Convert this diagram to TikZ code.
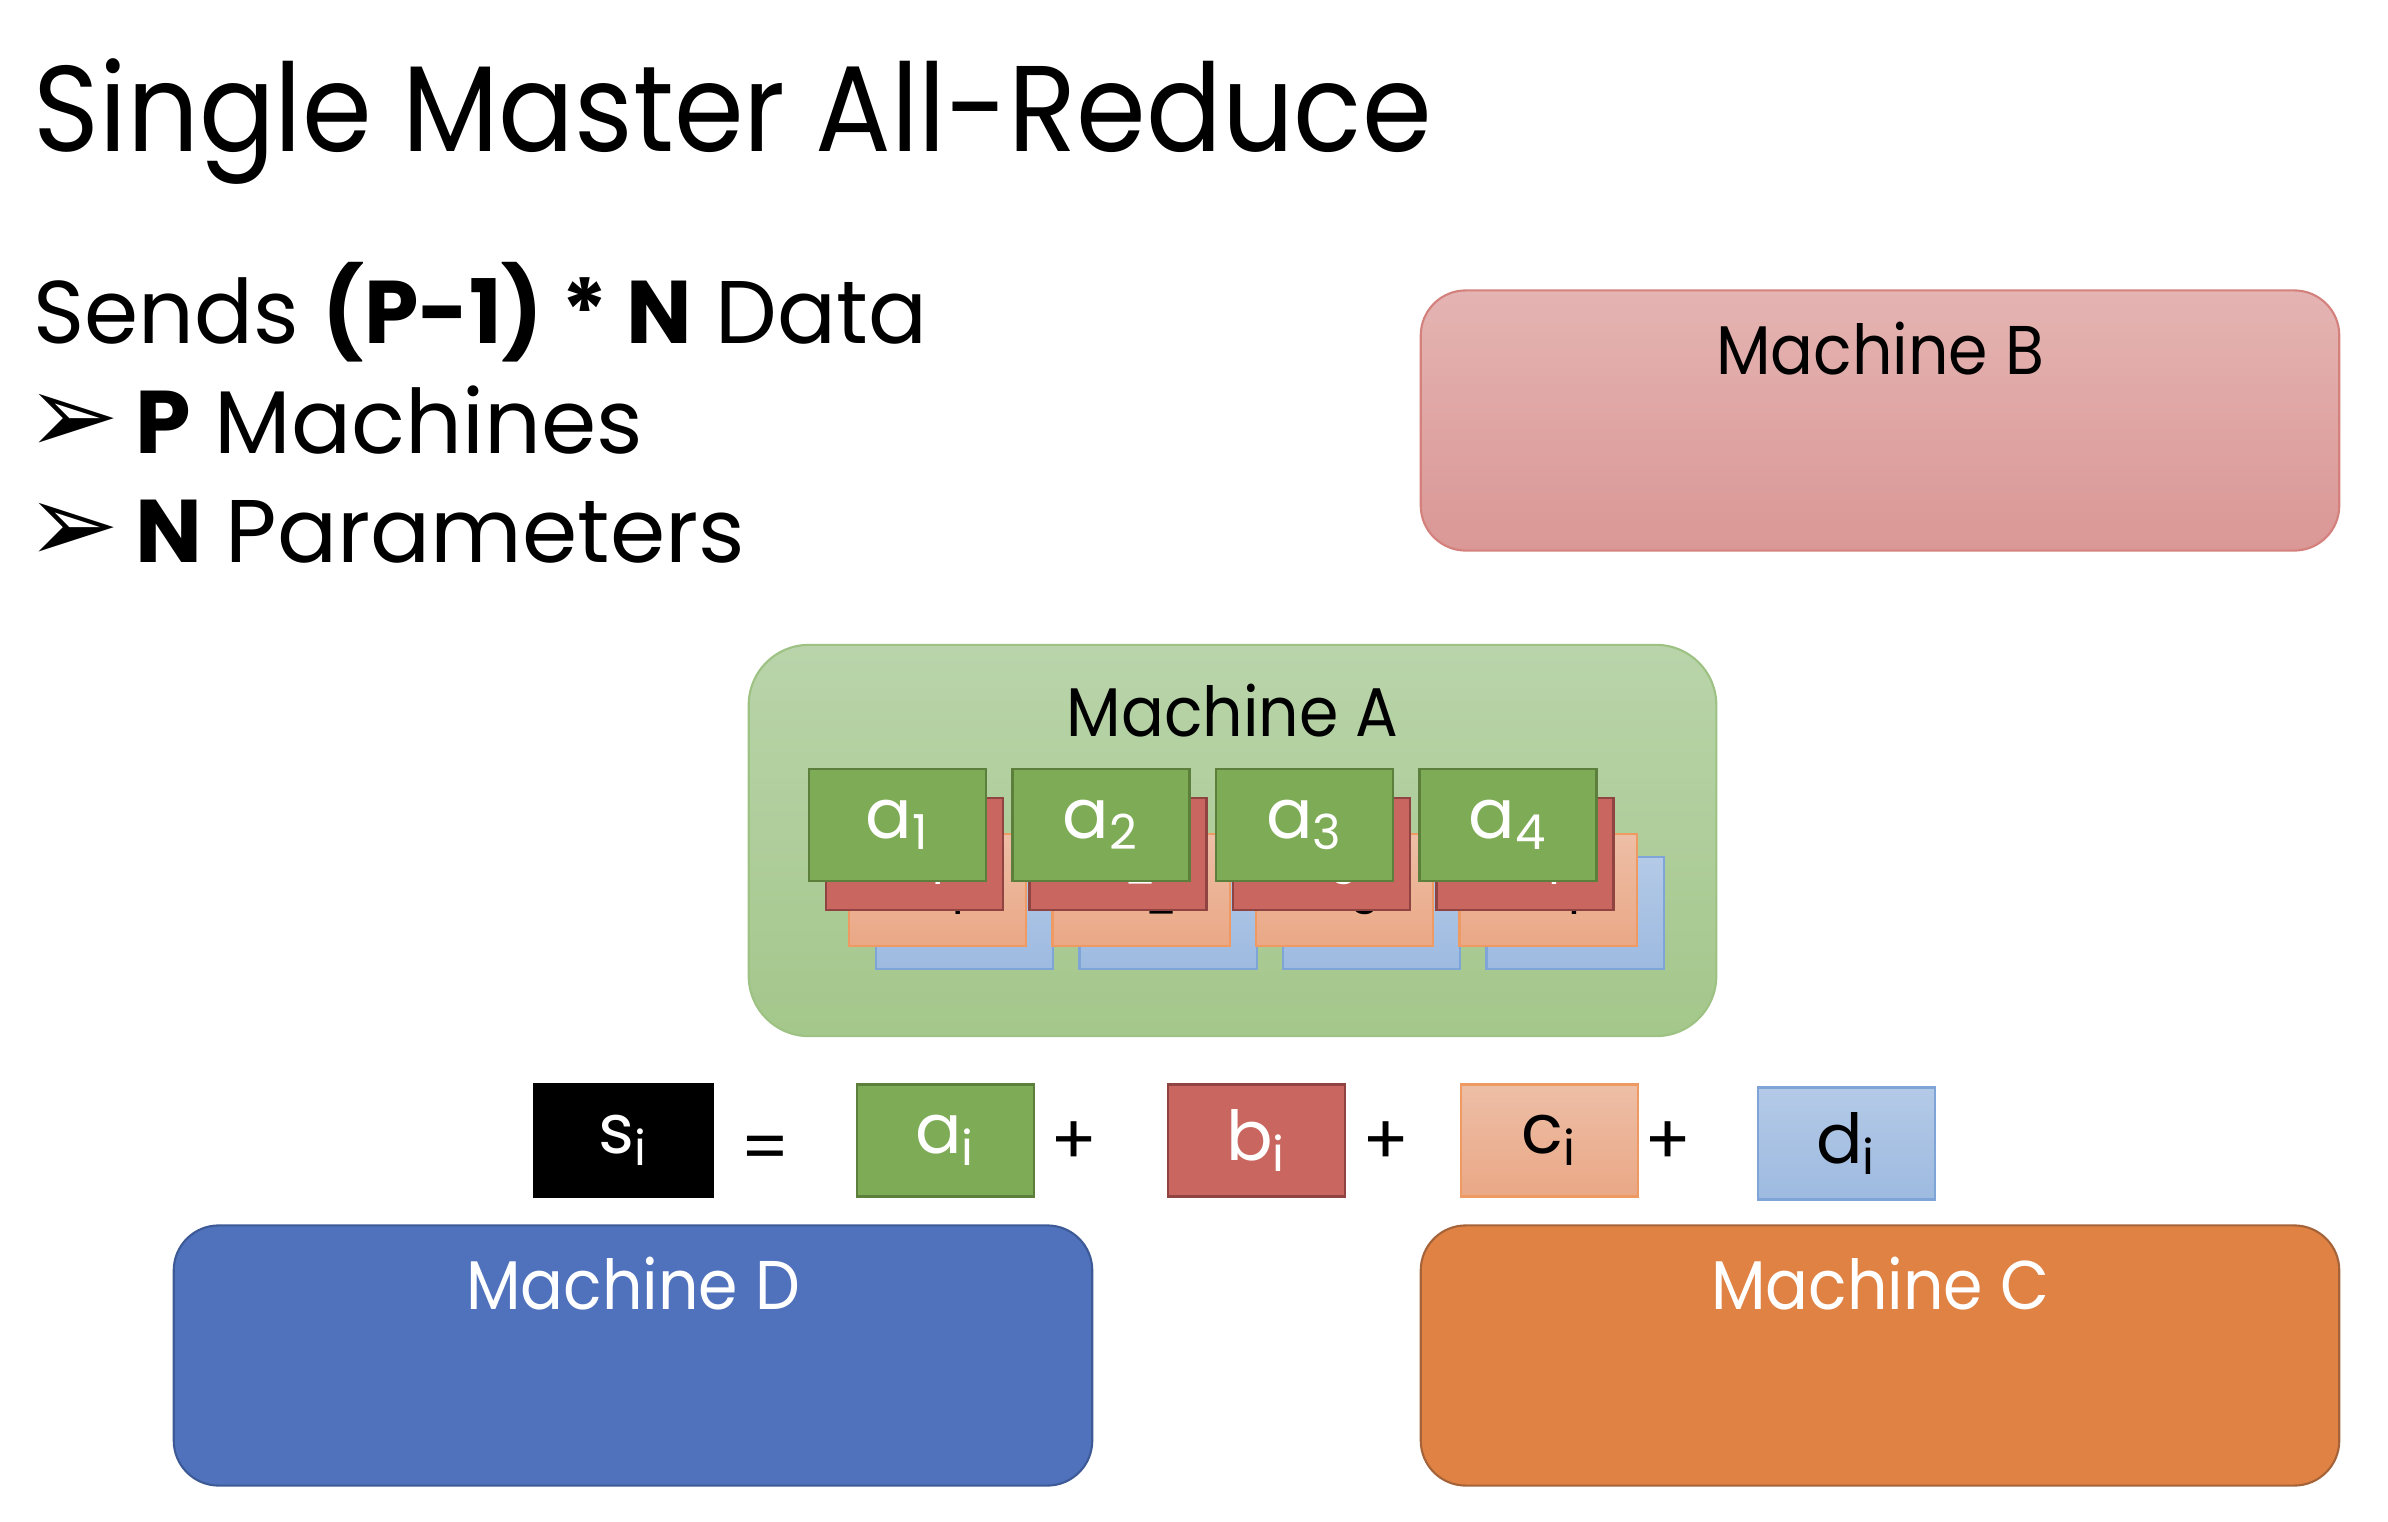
\documentclass[tikz,border=0pt]{standalone}
\usepackage{fontspec}
\setmainfont{Poppins}
\newfontfamily\symfont{DejaVu Sans}
\usetikzlibrary{positioning, calc}

\definecolor{redtop}{HTML}{E4B4B2}
\definecolor{redbot}{HTML}{DA9795}
\definecolor{redline}{HTML}{D4817E}
\definecolor{greentop}{HTML}{B9D4AA}
\definecolor{greenbot}{HTML}{A4C78B}
\definecolor{greenline}{HTML}{9DC283}
\definecolor{blueA}{HTML}{5072BD}
\definecolor{blueline}{HTML}{3D5A96}
\definecolor{orangeA}{HTML}{DF8244}
\definecolor{orangeline}{HTML}{A5633A}
\definecolor{cardgreen}{HTML}{7EAB55}
\definecolor{cardgreenline}{HTML}{5C7F3C}
\definecolor{cardred}{HTML}{C9665F}
\definecolor{cardredline}{HTML}{8F4441}
\definecolor{cardorgtop}{HTML}{EDBEA6}
\definecolor{cardorgbot}{HTML}{EAA886}
\definecolor{cardorgline}{HTML}{EE9A62}
\definecolor{cardbluetop}{HTML}{B4CAE7}
\definecolor{cardbluebot}{HTML}{9DBAE0}
\definecolor{cardblueline}{HTML}{7FA4D8}

\newcommand{\titlefont}{\fontsize{34.7}{41}\selectfont}
\newcommand{\bodyfont}{\fontsize{25.3}{30}\selectfont}
\newcommand{\boxfont}{\fontsize{19.6}{23}\selectfont}
\newcommand{\arrowbullet}{\hspace*{-0.076cm}{\symfont\scalebox{1.25}{➢}}\hspace{0.16cm}}
\newcommand{\narrow}[1]{\scalebox{0.92}[1]{#1}}

\tikzstyle{machine} = [rectangle, draw, rounded corners=0.45cm, minimum width=9.18cm, minimum height=2.6cm, line width=0.6pt]
\tikzstyle{machinetext} = [anchor=base, inner sep=0pt, font=\boxfont]
\tikzstyle{card} = [rectangle, draw, minimum width=1.77cm, minimum height=1.12cm, inner sep=0pt, font=\boxfont, line width=0.8pt]
\tikzstyle{op} = [inner sep=0pt, font=\boxfont]
\tikzstyle{slide} = [anchor=base west, inner sep=0pt]

\begin{document}
\begin{tikzpicture}[x=0.01cm, y=-0.01cm]
        \useasboundingbox (0,0) rectangle (2388,1522);

        % heading and bullets
        \node (title) [slide, font=\titlefont] at (33,152) {\narrow{Single Master All-Reduce}};
        \node (sends) [slide, font=\bodyfont] at (33,344) {\scalebox{0.98}[1]{Sends \textbf{(P-1) * N} Data}};
        \node (machines) [slide, font=\bodyfont] at (33,454) {\arrowbullet\textbf{P} Machines};
        \node (params) [slide, font=\bodyfont] at (33,563) {\arrowbullet\textbf{N} Parameters};

        % the four machines
        \node (mB) [machine, draw=redline, top color=redtop, bottom color=redbot] at (1880,420.5) {};
        \node (mBtext) [machinetext] at ($(mB.north)+(0,85)$) {\narrow{Machine B}};

        \node (mA) [machine, draw=greenline, top color=greentop, bottom color=greenbot, rounded corners=0.6cm, minimum width=9.67cm, minimum height=3.91cm] at (1232.5,840.5) {};
        \node (mAtext) [machinetext] at ($(mA.north)+(0,93)$) {\narrow{Machine A}};

        \node (mD) [machine, draw=blueline, fill=blueA] at (633,1355.5) {};
        \node (mDtext) [machinetext, text=white] at ($(mD.north)+(0,85)$) {\narrow{Machine D}};

        \node (mC) [machine, draw=orangeline, fill=orangeA] at (1880,1355.5) {};
        \node (mCtext) [machinetext, text=white] at ($(mC.north)+(0,85)$) {\narrow{Machine C}};

        % stacked parameter cards inside machine A
        \foreach \k in {1,...,4} {
            \node (d\k) [card, draw=cardblueline, top color=cardbluetop, bottom color=cardbluebot, line width=0.6pt] at ({964.5+203.5*(\k-1)},913) {d\textsubscript{\k}};
        }
        \foreach \k in {1,...,4} {
            \node (c\k) [card, draw=cardorgline, top color=cardorgtop, bottom color=cardorgbot, line width=0.6pt] at ({937.5+203.5*(\k-1)},890) {c\textsubscript{\k}};
        }
        \foreach \k in {1,...,4} {
            \node (b\k) [card, draw=cardredline, fill=cardred, text=white] at ({914.5+203.5*(\k-1)},854) {b\textsubscript{\k}};
        }
        \foreach \k in {1,...,4} {
            \node (a\k) [card, draw=cardgreenline, fill=cardgreen, text=white] at ({897.5+203.5*(\k-1)},825) {a\textsubscript{\k}};
        }

        % the sum
        \node (sumS) [card, draw=black, fill=black, text=white, minimum width=1.79cm] at (623.5,1140.5) {s\textsubscript{i}};
        \node (sumA) [card, draw=cardgreenline, fill=cardgreen, text=white, right=1.41cm of sumS] {a\textsubscript{i}};
        \node (sumB) [card, draw=cardredline, fill=cardred, text=white, right=1.31cm of sumA] {b\textsubscript{i}};
        \node (sumC) [card, draw=cardorgline, top color=cardorgtop, bottom color=cardorgbot, line width=0.6pt, right=1.13cm of sumB] {c\textsubscript{i}};
        \node (sumD) [card, draw=cardblueline, top color=cardbluetop, bottom color=cardbluebot, line width=0.6pt, right=1.18cm of sumC, yshift=-0.03cm] {d\textsubscript{i}};

        \node (eq) [op] at (765,1154) {=};
        \node (plusA) [op] at (1074,1143) {+};
        \node (plusB) [op] at (1386,1143) {+};
        \node (plusC) [op] at (1668,1143) {+};

    \end{tikzpicture}
\end{document}
